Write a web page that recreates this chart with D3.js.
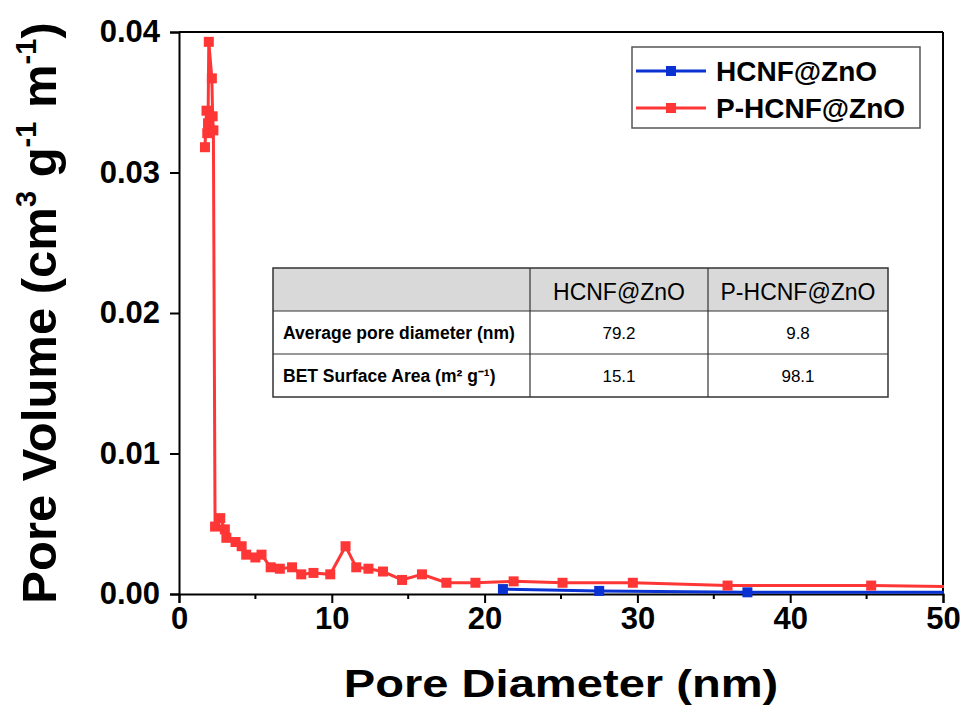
<!DOCTYPE html>
<html>
<head>
<meta charset="utf-8">
<script src="https://cdn.jsdelivr.net/npm/d3@7/dist/d3.min.js"></script>
<style>
  body { margin: 0; background: #fff; }
  svg { font-family: "Liberation Sans", Arial, sans-serif; }
</style>
</head>
<body>
<div id="chart"></div>
<script>
// Pore size distribution (x: nm, y: cm3 g-1 m-1)
const seriesNames = ['HCNF@ZnO', 'P-HCNF@ZnO'];
const seriesColors = ['#0a32d2', '#ff3636'];

const hcnfX = [21.2, 27.5, 37.2, 55];
const hcnfY = [0.00035, 0.00022, 0.00012, 0.00012];

const phcnfX = [1.7, 1.8, 1.85, 1.9, 1.95, 2.15, 2.2, 2.25, 2.36, 2.7, 3.0, 3.1, 3.7, 4.1, 4.4, 5.0, 5.4,
  6.0, 6.6, 7.4, 8.0, 8.8, 9.9, 10.9, 11.6, 12.4, 13.35, 14.6, 15.9, 17.5, 19.4, 21.9, 25.1, 29.7,
  35.9, 45.3, 58];
const phcnfY = [0.0318, 0.0344, 0.0328, 0.0335, 0.0393, 0.0367, 0.0340, 0.0330, 0.0048, 0.0054, 0.0046,
  0.0040, 0.0037, 0.0034, 0.0028, 0.0026, 0.0028, 0.0019, 0.0018, 0.0019, 0.0014, 0.0015, 0.0014,
  0.0034, 0.0019, 0.0018, 0.0016, 0.0010, 0.0014, 0.0008, 0.0008, 0.0009, 0.0008, 0.0008, 0.0006,
  0.0006, 0.0004];

const xTicks = [0, 10, 20, 30, 40, 50];
const xMinor = [5, 15, 25, 35, 45];
const yTicks = [0, 0.01, 0.02, 0.03, 0.04];

// inset table
const tableHeader = ['', 'HCNF@ZnO', 'P-HCNF@ZnO'];
const tableRows = [
  ['Average pore diameter (nm)', '79.2', '9.8'],
  ['BET Surface Area (m² g⁻¹)', '15.1', '98.1']
];

const W = 960, H = 712;
const margin = { top: 32, right: 17, bottom: 118, left: 179 };
const width = W - margin.left - margin.right;
const height = H - margin.top - margin.bottom;

const svg = d3.select('#chart').append('svg')
  .attr('width', W)
  .attr('height', H);

const g = svg.append('g')
  .attr('transform', `translate(${margin.left},${margin.top})`);

const x = d3.scaleLinear().domain([0, 50]).range([0, width]);
const y = d3.scaleLinear().domain([0, 0.04]).range([height, 0]);

// clip horizontally at the axis limits
svg.append('defs').append('clipPath').attr('id', 'clip')
  .append('rect').attr('x', -2).attr('y', -20).attr('width', width + 3).attr('height', height + 40);

// frame (top + right)
g.append('line').attr('x1', 0).attr('x2', width).attr('y1', 0).attr('y2', 0)
  .attr('stroke', '#000').attr('stroke-width', 2);
g.append('line').attr('x1', width).attr('x2', width).attr('y1', 0).attr('y2', height)
  .attr('stroke', '#000').attr('stroke-width', 2);

// x axis
const xAxis = g.append('g')
  .attr('transform', `translate(0,${height})`)
  .call(d3.axisBottom(x).tickValues(xTicks).tickSize(9).tickPadding(4).tickFormat(d3.format('d')));
g.append('g')
  .attr('transform', `translate(0,${height})`)
  .selectAll('line').data(xMinor).join('line')
  .attr('x1', d => x(d)).attr('x2', d => x(d))
  .attr('y1', 0).attr('y2', 5)
  .attr('stroke', '#000').attr('stroke-width', 2);

// y axis
const yAxis = g.append('g')
  .call(d3.axisLeft(y).tickValues(yTicks).tickSize(9).tickPadding(10).tickFormat(d3.format('.2f')));

[xAxis, yAxis].forEach(a => {
  a.select('.domain').attr('stroke-width', 2);
  a.selectAll('.tick line').attr('stroke-width', 2);
  a.selectAll('.tick text')
    .attr('font-family', '"Liberation Sans", Arial, sans-serif')
    .attr('font-size', 31).attr('font-weight', 'bold').attr('fill', '#000');
});

// series
const plot = g.append('g').attr('clip-path', 'url(#clip)');
const series = [
  { name: seriesNames[0], color: seriesColors[0], xs: hcnfX, ys: hcnfY },
  { name: seriesNames[1], color: seriesColors[1], xs: phcnfX, ys: phcnfY }
];
const line = d3.line().x(d => x(d[0])).y(d => y(d[1]));
const msize = 10;

series.forEach(s => {
  const pts = s.xs.map((v, i) => [v, s.ys[i]]);
  plot.append('path')
    .datum(pts)
    .attr('d', line)
    .attr('fill', 'none')
    .attr('stroke', s.color)
    .attr('stroke-width', 3);
  plot.selectAll(null).data(pts).join('rect')
    .attr('x', d => x(d[0]) - msize / 2)
    .attr('y', d => y(d[1]) - msize / 2)
    .attr('width', msize).attr('height', msize)
    .attr('fill', s.color);
});

// axis titles (the x title is drawn wider than tall, as in the figure)
svg.append('text')
  .attr('transform', 'translate(561,697) scale(1.24,1)')
  .attr('text-anchor', 'middle')
  .attr('font-size', 38).attr('font-weight', 'bold')
  .text('Pore Diameter (nm)');

const yt = svg.append('text')
  .attr('transform', 'translate(56,313) rotate(-90)')
  .attr('text-anchor', 'middle')
  .attr('font-size', 49).attr('font-weight', 'bold');
yt.append('tspan').text('Pore Volume (cm');
yt.append('tspan').attr('font-size', 29).attr('dy', -20).text('3');
yt.append('tspan').attr('dy', 20).text(' g');
yt.append('tspan').attr('font-size', 29).attr('dy', -20).text('-1');
yt.append('tspan').attr('dy', 20).text(' m');
yt.append('tspan').attr('font-size', 29).attr('dy', -20).text('-1');
yt.append('tspan').attr('dy', 20).text(')');

// legend
const lg = svg.append('g').attr('transform', 'translate(632,47)');
lg.append('rect').attr('width', 288).attr('height', 81)
  .attr('fill', '#fff').attr('stroke', '#555').attr('stroke-width', 1.5);
series.forEach((s, i) => {
  const ly = 24 + i * 37;
  lg.append('line').attr('x1', 4).attr('x2', 74).attr('y1', ly).attr('y2', ly)
    .attr('stroke', s.color).attr('stroke-width', 3);
  lg.append('rect').attr('x', 39 - msize / 2).attr('y', ly - msize / 2)
    .attr('width', msize).attr('height', msize).attr('fill', s.color);
  lg.append('text').attr('x', 84).attr('y', ly + 10)
    .attr('font-size', 28).attr('font-weight', 'bold').text(s.name);
});

// table
const colX = [273, 530, 708, 888];
const rowY = [268, 311, 354, 397];
const tg = svg.append('g');
tg.append('rect').attr('x', colX[0]).attr('y', rowY[0])
  .attr('width', colX[3] - colX[0]).attr('height', rowY[1] - rowY[0])
  .attr('fill', '#d9d9d9');
tg.append('rect').attr('x', colX[0]).attr('y', rowY[0])
  .attr('width', colX[3] - colX[0]).attr('height', rowY[3] - rowY[0])
  .attr('fill', 'none').attr('stroke', '#333').attr('stroke-width', 1.5);
rowY.slice(1, 3).forEach(ry => tg.append('line')
  .attr('x1', colX[0]).attr('x2', colX[3]).attr('y1', ry).attr('y2', ry)
  .attr('stroke', '#333').attr('stroke-width', 1.2));
colX.slice(1, 3).forEach(cx => tg.append('line')
  .attr('x1', cx).attr('x2', cx).attr('y1', rowY[0]).attr('y2', rowY[3])
  .attr('stroke', '#333').attr('stroke-width', 1.2));

tableHeader.forEach((t, j) => {
  if (!t) return;
  tg.append('text').attr('x', (colX[j] + colX[j + 1]) / 2).attr('y', rowY[0] + 32)
    .attr('text-anchor', 'middle').attr('font-size', 23).text(t);
});
tableRows.forEach((r, i) => {
  const cy = (rowY[i + 1] + rowY[i + 2]) / 2 + 6;
  tg.append('text').attr('x', colX[0] + 10).attr('y', cy)
    .attr('font-size', 17.5).attr('font-weight', 'bold').text(r[0]);
  r.slice(1).forEach((v, j) => tg.append('text')
    .attr('x', (colX[j + 1] + colX[j + 2]) / 2).attr('y', cy)
    .attr('text-anchor', 'middle').attr('font-size', 17).text(v));
});
</script>
</body>
</html>
